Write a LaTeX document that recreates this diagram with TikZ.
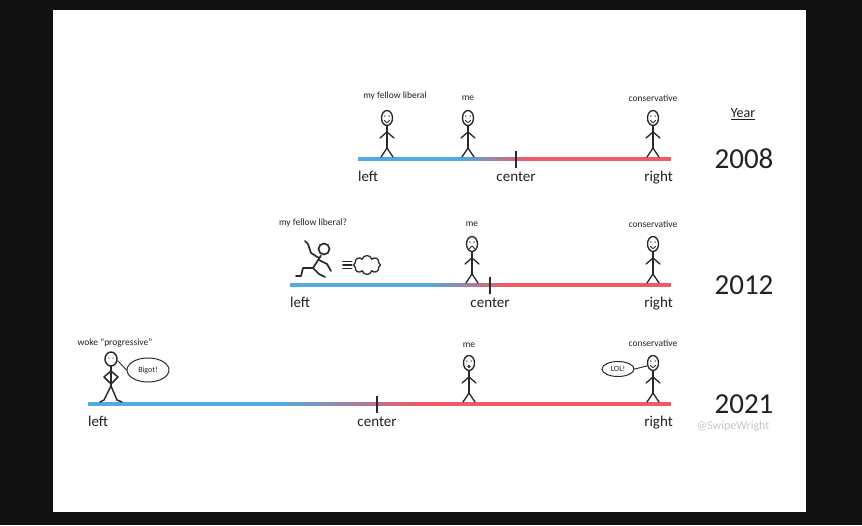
\documentclass[tikz,border=0pt]{standalone}
\usepackage{fontspec}
\setmainfont{Carlito}
\usepackage{tikz}
\usetikzlibrary{positioning,shapes.geometric,shapes.symbols}

\definecolor{lblue}{HTML}{52AAE1}
\definecolor{lred}{HTML}{F05A64}
\definecolor{figgray}{HTML}{2A2A2A}
\definecolor{txt}{HTML}{222222}
\definecolor{frame}{HTML}{111111}

\tikzset{
  figline/.style={draw=figgray, line width=1.35pt, line cap=round, line join=round},
  who/.style={font=\fontsize{9.5}{11}\selectfont, text=txt, inner sep=0pt},
  endlabel/.style={font=\fontsize{15}{17}\selectfont, text=txt, inner sep=0pt},
  yr/.style={font=\fontsize{29}{32}\selectfont, text=txt, inner sep=0pt},
  midtick/.style={draw=figgray, line width=1.8pt},
  bubble/.style={ellipse, draw=figgray, line width=1pt, inner sep=0pt, font=\fontsize{8}{9}\selectfont, text=txt},
  pics/stickfig/.style={code={
    \draw[figline] (0,-41) ellipse [x radius=5.5pt, y radius=7.5pt];
    \fill[figgray] (-2.2,-43) circle [radius=0.75pt] (2.2,-43) circle [radius=0.75pt];
    \draw[figline, line width=0.9pt] #1;
    \draw[figline] (0,-33.5) -- (0,-11);
    \draw[figline] (-7,-21) -- (0,-27) -- (7,-21);
    \draw[figline] (-6,-2) -- (0,-11) -- (6,-2);
  }},
}

\begin{document}
\begin{tikzpicture}[x=1pt, y=-1pt]
    % frame
    \fill[frame] (0,0) rectangle (862,525);
    \fill[white] (53,10) rectangle (806,512);
    \useasboundingbox (0,0) rectangle (862,525);

    % the three lines
    \foreach \yr/\ly/\xl/\xs/\xe/\xc in {2008/159/358/463/527/516, 2012/285/290/430/505/490, 2021/404/88/280/420/377} {
        \coordinate (L\yr) at (\xl,\ly);
        \coordinate (S\yr) at (\xs,\ly);
        \coordinate (E\yr) at (\xe,\ly);
        \coordinate (R\yr) at (671,\ly);
        \coordinate (C\yr) at (\xc,\ly);
        \fill[lblue] ([yshift=1.6pt]L\yr) rectangle ([yshift=-1.6pt]S\yr);
        \shade[left color=lblue, right color=lred] ([yshift=1.6pt]S\yr) rectangle ([yshift=-1.6pt]E\yr);
        \fill[lred] ([yshift=1.6pt]E\yr) rectangle ([yshift=-1.6pt]R\yr);
        \draw[midtick] ([yshift=8.5pt]C\yr) -- ([yshift=-8.5pt]C\yr);
        \node[endlabel, anchor=base west] (left\yr) at (\xl,\ly+22) {left};
        \node[endlabel, anchor=base] (center\yr) at (\xc,\ly+22) {center};
        \node[endlabel, anchor=base east] (right\yr) at (673,\ly+22) {right};
        \node[yr] (num\yr) at (744,\ly) {\yr};
    }
    \node[font=\fontsize{14}{16}\selectfont, text=txt, inner sep=0pt] (year) at (743,114) {\underline{Year}};
    \node[font=\fontsize{12}{14}\selectfont, text=black!22, inner sep=0pt] (tag) at (733,426) {@SwipeWright};

    % 2008
    \pic (lib08) at (387,159) {stickfig={(-2.5,-38.5) .. controls (0,-36) .. (2.5,-38.5)}};
    \pic (me08) at (468,159) {stickfig={(-2.5,-38.5) .. controls (0,-36) .. (2.5,-38.5)}};
    \pic (con08) at (653,159) {stickfig={(-2.5,-38.5) .. controls (0,-36) .. (2.5,-38.5)}};
    \node[who] (tlib08) at (395,96) {my fellow liberal};
    \node[who] (tme08) at (468,98) {me};
    \node[who] (tcon08) at (653,98) {conservative};

    % 2012
    \pic (me12) at (472,285) {stickfig={(-2.5,-36.5) .. controls (0,-39.5) .. (2.5,-36.5)}};
    \pic (con12) at (653,285) {stickfig={(-2.5,-38.5) .. controls (0,-36) .. (2.5,-38.5)}};
    \node[who] (tlib12) at (313,223) {my fellow liberal?};
    \node[who] (tme12) at (472,224) {me};
    \node[who] (tcon12) at (653,224) {conservative};
    % running liberal
    \draw[figline, line width=1.7pt] (324,249) circle [radius=5.5pt];
    \draw[figline, line width=1.7pt] (321,255.5) .. controls (317,262) .. (313,268);
    \draw[figline, line width=1.7pt] (319,258) -- (311,253) -- (308,244) -- (305,241);
    \draw[figline, line width=1.7pt] (319,260) -- (327,264) -- (331,271);
    \draw[figline, line width=1.7pt] (313,268) -- (303,268) -- (301,276) -- (296,276);
    \draw[figline, line width=1.7pt] (313,268) -- (319,274) -- (325,277);
    \node[cloud, cloud puffs=8, draw=figgray, line width=1.3pt, minimum width=27pt, minimum height=19pt, inner sep=0pt] (puff) at (367,265) {};
    \foreach \k in {-3.5,0,3.5} {
        \draw[figline, line width=1.3pt] ([xshift=-10pt, yshift=\k pt]puff.west) -- ([xshift=-1pt, yshift=\k pt]puff.west);
    }

    % 2021
    \pic (me21) at (469,404) {stickfig={(0,-37.5) circle [radius=1.3pt]}};
    \pic (con21) at (653,404) {stickfig={(-2.5,-38.5) .. controls (0,-36) .. (2.5,-38.5)}};
    \node[who] (twoke) at (115,343) {woke ``progressive''};
    \node[who] (tme21) at (469,345) {me};
    \node[who] (tcon21) at (653,343) {conservative};
    % woke figure
    \draw[figline, line width=1.5pt] (111,359) ellipse [x radius=6pt, y radius=7pt];
    \fill[figgray] (109,358) circle [radius=0.7pt] (113,358) circle [radius=0.7pt];
    \draw[figline, line width=1.5pt] (111,366) -- (111,386);
    \draw[figline, line width=1.5pt] (111,371) -- (104,377) -- (110,383);
    \draw[figline, line width=1.5pt] (111,371) -- (118,377) -- (112,383);
    \draw[figline, line width=1.5pt] (100,402) -- (104,400) -- (111,386) -- (117,400) -- (122,402);
    \node[bubble, minimum width=42pt, minimum height=24pt] (bigot) at (148,370) {Bigot!};
    \coordinate (wmouth) at (118,361);
    \draw[figline, line width=0.9pt] (wmouth) -- (bigot.west);
    \node[bubble, minimum width=32pt, minimum height=15pt] (lol) at (618,369) {LOL!};
    \coordinate (cmouth) at (647,366);
    \draw[figline, line width=0.9pt] (cmouth) -- (lol.east);
\end{tikzpicture}
\end{document}
